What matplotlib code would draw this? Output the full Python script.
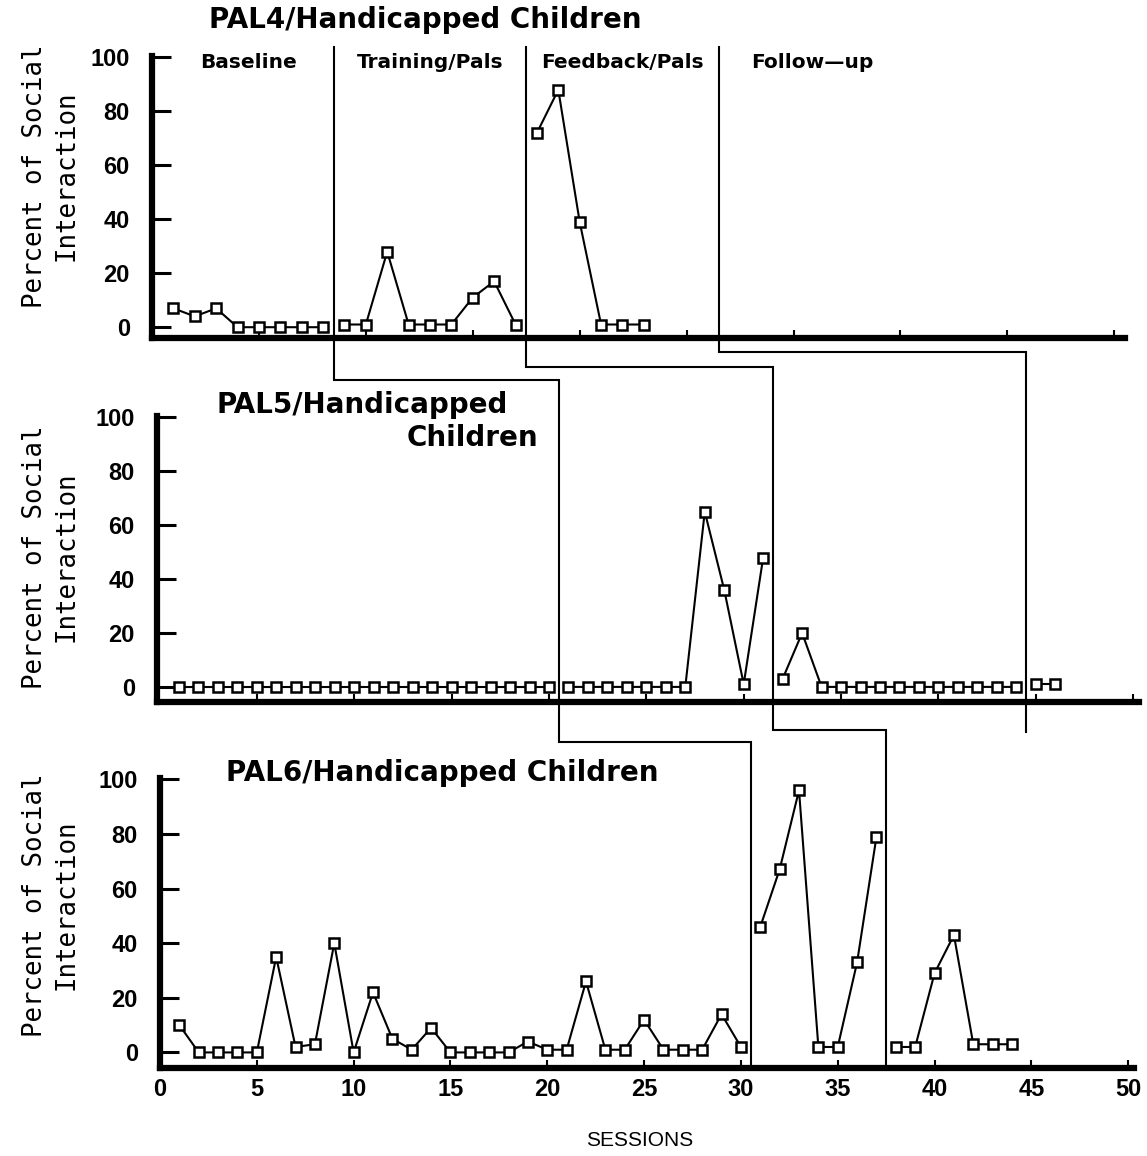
import matplotlib
matplotlib.use("Agg")
import matplotlib.pyplot as plt
from matplotlib.lines import Line2D

# Session numbers and percent of social interaction, per child and phase
pal4_sessions = [list(range(1, 9)), list(range(9, 18)), list(range(18, 24))]
pal4_values = [
    [7, 4, 7, 0, 0, 0, 0, 0],
    [1, 1, 28, 1, 1, 1, 11, 17, 1],
    [72, 88, 39, 1, 1, 1],
]

pal5_sessions = [list(range(1, 21)), list(range(21, 32)), list(range(32, 45)), list(range(45, 47))]
pal5_values = [
    [0] * 20,
    [0, 0, 0, 0, 0, 0, 0, 65, 36, 1, 48],
    [3, 20, 0, 0, 0, 0, 0, 0, 0, 0, 0, 0, 0],
    [1, 1],
]

pal6_sessions = [list(range(1, 31)), list(range(31, 38)), list(range(38, 45))]
pal6_values = [
    [10, 0, 0, 0, 0, 35, 2, 3, 40, 0, 22, 5, 1, 9, 0, 0, 0, 0, 4, 1,
     1, 26, 1, 1, 12, 1, 1, 1, 14, 2],
    [46, 67, 96, 2, 2, 33, 79],
    [2, 2, 29, 43, 3, 3, 3],
]

phase_names = ["Baseline", "Training/Pals", "Feedback/Pals", "Follow\u2014up"]
# phase change points (between sessions) for each child
pal4_changes = [8.5, 17.5, 26.5]
pal5_changes = [20.5, 31.5, 44.5]
pal6_changes = [30.5, 37.5]

y_ticks = [0, 20, 40, 60, 80, 100]
x_ticks = [0, 5, 10, 15, 20, 25, 30, 35, 40, 45, 50]

W, H = 1147, 1156
fig = plt.figure(figsize=(W / 100, H / 100), dpi=100)
fig.patch.set_facecolor("white")

num_font = "Liberation Sans"


def px_rect(left, right, top, bottom):
    return [left / W, (H - bottom) / H, (right - left) / W, (bottom - top) / H]


def setup(ax, xlim, ylim, xticks, show_xlabels=False):
    ax.set_xlim(*xlim)
    ax.set_ylim(*ylim)
    for s in ["top", "right"]:
        ax.spines[s].set_visible(False)
    for s in ["left", "bottom"]:
        ax.spines[s].set_linewidth(4.5)
    ax.set_yticks(y_ticks)
    ax.set_xticks(xticks)
    ax.tick_params(axis="y", direction="in", length=14, width=2.2, pad=16,
                   labelsize=17)
    ax.tick_params(axis="x", direction="in", length=6, width=1.5, pad=7,
                   labelsize=17, labelbottom=show_xlabels)
    for lab in ax.get_yticklabels() + ax.get_xticklabels():
        lab.set_family(num_font)
        lab.set_fontweight("bold")


def draw_series(ax, sessions, values):
    for xs, ys in zip(sessions, values):
        ax.plot(xs, ys, color="black", lw=1.5, marker="s", ms=7.5,
                mfc="white", mec="black", mew=1.8, clip_on=False, zorder=3)


ax1 = fig.add_axes(px_rect(152, 1125, 56, 338))
setup(ax1, (0, 45.5), (-4, 100.5), x_ticks[1:10])
draw_series(ax1, pal4_sessions, pal4_values)

ax2 = fig.add_axes(px_rect(157, 1139, 416, 702))
setup(ax2, (-0.13, 50.3), (-5.6, 100.5), x_ticks[1:])
draw_series(ax2, pal5_sessions, pal5_values)

ax3 = fig.add_axes(px_rect(160, 1134, 778, 1068))
setup(ax3, (0, 50.3), (-5.7, 100.5), x_ticks, show_xlabels=True)
draw_series(ax3, pal6_sessions, pal6_values)

# phase names across the top panel
phase_x = [4.5, 13, 22, 28]
for name, px, ha in zip(phase_names, phase_x, ["center", "center", "center", "left"]):
    ax1.text(px, 98, name, ha=ha, va="center", fontsize=14.5,
             fontweight="bold", family="DejaVu Sans")

# child titles
title_kw = dict(fontsize=20, fontweight="bold", family="DejaVu Sans",
                ha="center", va="center")
fig.text(425 / W, 1 - 20 / H, "PAL4/Handicapped Children", **title_kw)
fig.text(362 / W, 1 - 405 / H, "PAL5/Handicapped", **title_kw)
fig.text(472 / W, 1 - 438 / H, "Children", **title_kw)
fig.text(442 / W, 1 - 773 / H, "PAL6/Handicapped Children", **title_kw)

# y axis labels
for yc in [176, 557, 905]:
    fig.text(51 / W, 1 - yc / H, "Percent of Social\nInteraction", rotation=90,
             ha="center", va="center", multialignment="center",
             fontsize=18.5, family="DejaVu Sans Mono", linespacing=1.25)

fig.text(640 / W, 1 - 1140 / H, "SESSIONS", ha="center", va="center",
         fontsize=15, family="Liberation Sans")

# stepped phase-change lines running through the three panels
to_fig = fig.transFigure.inverted()


def pt(ax, x, y):
    return to_fig.transform(ax.transData.transform((x, y)))


def step_line(points):
    xs = [p[0] for p in points]
    ys = [p[1] for p in points]
    fig.add_artist(Line2D(xs, ys, transform=fig.transFigure, color="black",
                          lw=1.5, solid_joinstyle="miter"))


def connector(x1, y1_drop, x2, y2_drop, x3=None):
    a = pt(ax1, x1, 104)
    b = pt(ax1, x1, y1_drop)
    c = (pt(ax2, x2, 0)[0], b[1])
    d = pt(ax2, x2, y2_drop)
    pts = [a, b, c, d]
    if x3 is not None:
        e = (pt(ax3, x3, 0)[0], d[1])
        f = pt(ax3, x3, ax3.get_ylim()[0])
        pts += [e, f]
    step_line(pts)


connector(pal4_changes[0], -19.6, pal5_changes[0], -20.4, pal6_changes[0])
connector(pal4_changes[1], -14.8, pal5_changes[1], -15.9, pal6_changes[1])
connector(pal4_changes[2], -9.3, pal5_changes[2], -16.7)

fig.savefig("out.png", dpi=100, facecolor="white")
